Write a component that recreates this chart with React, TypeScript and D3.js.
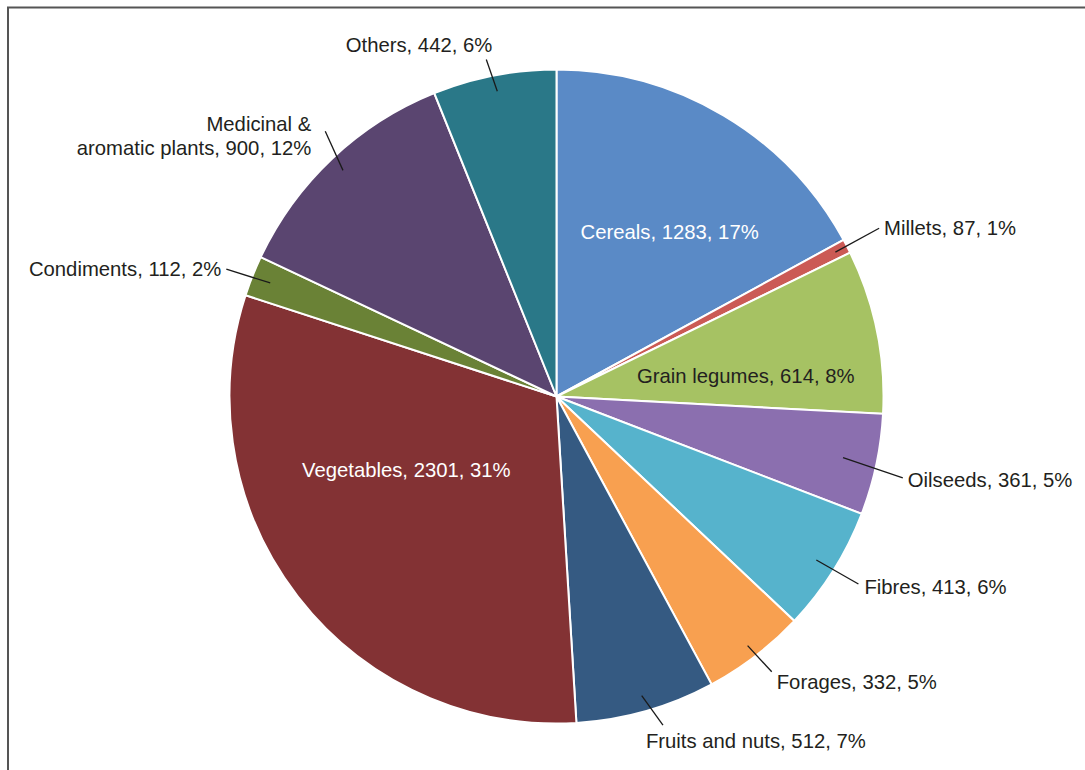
import React from "react";
import * as d3 from "d3";

const categories = [
  "Cereals",
  "Millets",
  "Grain legumes",
  "Oilseeds",
  "Fibres",
  "Forages",
  "Fruits and nuts",
  "Vegetables",
  "Condiments",
  "Medicinal & aromatic plants",
  "Others",
];
// numbers printed in the labels
const values = [1283, 87, 614, 361, 413, 332, 512, 2301, 112, 900, 442];
const percents = [17, 1, 8, 5, 6, 5, 7, 31, 2, 12, 6];
// slice sizes as drawn in the picture (percent of the circle)
const shares = [17.06, 0.7, 8.1, 5.0, 6.2, 5.1, 6.9, 31.0, 2.0, 11.9, 6.1];
const colors = [
  "#5A8AC6",
  "#CB5A55",
  "#A6C263",
  "#8B6FAF",
  "#56B3CC",
  "#F8A050",
  "#355A82",
  "#833234",
  "#6A8236",
  "#5A4570",
  "#2A7888",
];

type Lay = {
  inside: boolean;
  dx: number;
  dy: number;
  r0?: number;
  tx?: number;
  ty?: number;
  anchor?: "start" | "middle" | "end";
  fill?: string;
  lines?: string[];
};
const layout: Lay[] = [
  { inside: true, dx: 13, dy: 4, fill: "#ffffff" },
  { inside: false, dx: 10, dy: -6.5, r0: 314, tx: 5, ty: 0, anchor: "start" },
  { inside: true, dx: -3, dy: 19, fill: "#231F20" },
  { inside: false, dx: 2, dy: 8, r0: 293, tx: 5, ty: 2, anchor: "start" },
  { inside: false, dx: 4, dy: 0, r0: 307, tx: 6, ty: 3, anchor: "start" },
  { inside: false, dx: 1, dy: -4, r0: 314, tx: 5, ty: 10, anchor: "start" },
  { inside: false, dx: 10, dy: -10, r0: 311, tx: -17, ty: 16, anchor: "start" },
  { inside: true, dx: 5, dy: -47, fill: "#ffffff" },
  { inside: false, dx: -3, dy: 2.5, r0: 308, tx: -5, ty: 0, anchor: "end" },
  {
    inside: false,
    dx: 10.4,
    dy: -9.2,
    r0: 311,
    tx: -14,
    ty: -7,
    anchor: "end",
    lines: ["Medicinal &", "aromatic plants, 900, 12%"],
  },
  { inside: false, dx: -3.2, dy: 8.5, r0: 311, tx: 6, ty: -15, anchor: "end" },
];

const W = 1085;
const H = 770;
const cx = 556.5;
const cy = 396.5;
const R = 327;

export default function App() {
  const pie = d3
    .pie<number>()
    .value((d) => d)
    .sort(null)(shares);
  const arc = d3.arc<d3.PieArcDatum<number>>().innerRadius(0).outerRadius(R);
  const polar = (a: number, r: number): [number, number] => [
    Math.sin(a) * r,
    -Math.cos(a) * r,
  ];
  const font = "'Liberation Sans', Arial, sans-serif";
  const fs = 20.3;

  return (
    <svg
      width={W}
      height={H}
      style={{ position: "absolute", left: 0, top: 0, display: "block", background: "#fff" }}
    >
      <path d={`M8,${H} V7.5 H${W}`} fill="none" stroke="#555" strokeWidth={2} />
      <g transform={`translate(${cx},${cy})`}>
        {pie.map((p, i) => (
          <path key={i} d={arc(p) || ""} fill={colors[i]} stroke="#fff" strokeWidth={2} />
        ))}
        {pie.map((p, i) => {
          const L = layout[i];
          const mid = (p.startAngle + p.endAngle) / 2;
          const label = `${categories[i]}, ${values[i]}, ${percents[i]}%`;
          if (L.inside) {
            const [x, y] = polar(mid, R * 0.6);
            return (
              <text
                key={"t" + i}
                x={x + L.dx}
                y={y + L.dy}
                textAnchor="middle"
                dy="0.35em"
                fontFamily={font}
                fontSize={fs}
                fill={L.fill}
              >
                {label}
              </text>
            );
          }
          const [sx, sy] = polar(mid, L.r0 || 310);
          const [ox, oy] = polar(mid, 352);
          const ex = ox + L.dx;
          const ey = oy + L.dy;
          const lines = L.lines || [label];
          return (
            <g key={"t" + i}>
              <line x1={sx} y1={sy} x2={ex} y2={ey} stroke="#1a1a1a" strokeWidth={1.3} />
              {lines.map((ln, k) => (
                <text
                  key={k}
                  x={ex + (L.tx || 0)}
                  y={ey + (L.ty || 0) + k * 24}
                  textAnchor={L.anchor}
                  dy="0.35em"
                  fontFamily={font}
                  fontSize={fs}
                  fill="#231F20"
                >
                  {ln}
                </text>
              ))}
            </g>
          );
        })}
      </g>
    </svg>
  );
}
